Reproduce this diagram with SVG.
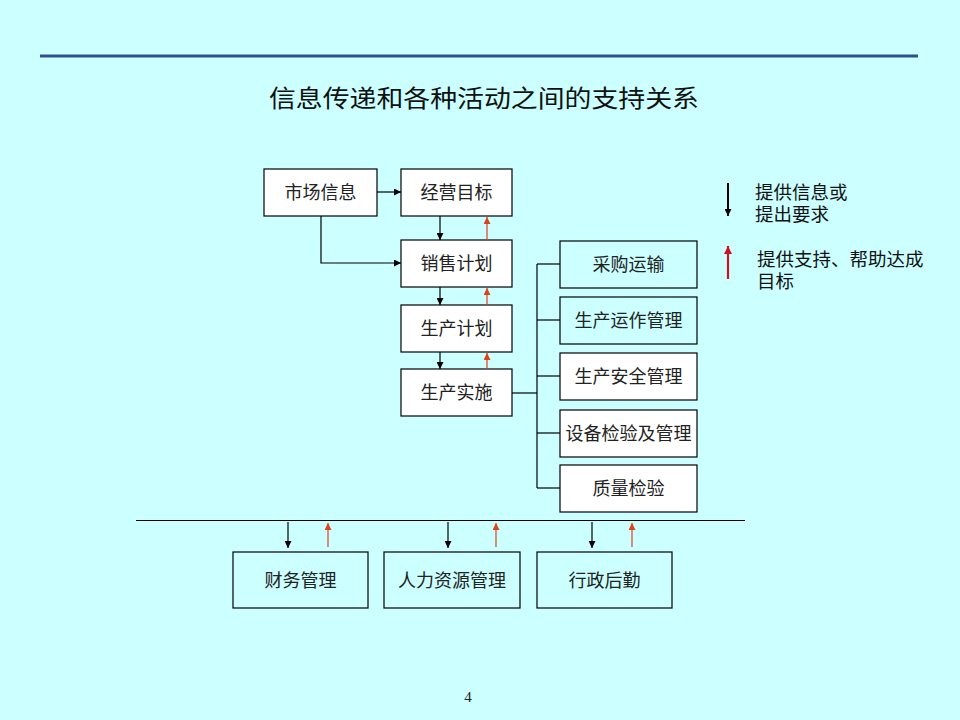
<svg xmlns="http://www.w3.org/2000/svg" width="960" height="720" viewBox="0 0 960 720">
<defs>
<marker id="ab" viewBox="0 0 10 10" refX="10" refY="5" markerWidth="7" markerHeight="7" markerUnits="userSpaceOnUse" orient="auto"><path d="M0,0 L10,5 L0,10 Z" fill="#000"/></marker>
<marker id="ar" viewBox="0 0 10 10" refX="10" refY="5" markerWidth="7" markerHeight="7" markerUnits="userSpaceOnUse" orient="auto"><path d="M0,0 L10,5 L0,10 Z" fill="#E0401A"/></marker>
<marker id="ar2" viewBox="0 0 10 10" refX="10" refY="5" markerWidth="8" markerHeight="8" markerUnits="userSpaceOnUse" orient="auto"><path d="M0,0 L10,5 L0,10 Z" fill="#CC1122"/></marker>
</defs>
<style>
.box{stroke:#000;stroke-width:1.2}
.w{fill:#fff}
.c{fill:#CCFFFF}
.t{font-family:"Noto Sans CJK SC","Noto Sans CJK JP",sans-serif;font-size:18px;fill:#222;text-anchor:middle}
.lg{font-family:"Noto Sans CJK SC","Noto Sans CJK JP",sans-serif;font-size:18.5px;fill:#111}
.title{font-family:"Noto Sans CJK SC","Noto Sans CJK JP",sans-serif;font-size:24px;fill:#111;text-anchor:middle}
.k{stroke:#000;stroke-width:1.2;fill:none}
.r{stroke:#E0401A;stroke-width:1.2;fill:none}
</style>
<rect x="0" y="0" width="960" height="720" fill="#CCFFFF"/>
<line x1="40" y1="56" x2="918" y2="56" stroke="#2F4F8A" stroke-width="3"/>
<text class="title" x="484" y="107" textLength="430" lengthAdjust="spacingAndGlyphs">信息传递和各种活动之间的支持关系</text>

<g id="n-market"><rect class="box w" x="264" y="169" width="113" height="47"/><text class="t" x="320.5" y="199">市场信息</text></g>
<g id="n-goal"><rect class="box w" x="401" y="169" width="111" height="47"/><text class="t" x="456.5" y="199">经营目标</text></g>
<g id="n-sales"><rect class="box w" x="401" y="240" width="111" height="47"/><text class="t" x="456.5" y="270">销售计划</text></g>
<g id="n-plan"><rect class="box w" x="401" y="305" width="111" height="47"/><text class="t" x="456.5" y="335">生产计划</text></g>
<g id="n-exec"><rect class="box w" x="401" y="369" width="111" height="47"/><text class="t" x="456.5" y="399">生产实施</text></g>

<g id="n-purchase"><rect class="box c" x="560" y="241" width="137" height="47"/><text class="t" x="628.5" y="271">采购运输</text></g>
<g id="n-ops"><rect class="box c" x="560" y="297" width="137" height="47"/><text class="t" x="628.5" y="327">生产运作管理</text></g>
<g id="n-safety"><rect class="box w" x="560" y="353" width="137" height="47"/><text class="t" x="628.5" y="383">生产安全管理</text></g>
<g id="n-equip"><rect class="box w" x="560" y="410" width="137" height="47"/><text class="t" x="628.5" y="440">设备检验及管理</text></g>
<g id="n-quality"><rect class="box w" x="560" y="465" width="137" height="47"/><text class="t" x="628.5" y="495">质量检验</text></g>

<g id="n-finance"><rect class="box c" x="233" y="552" width="135" height="56"/><text class="t" x="300.5" y="587">财务管理</text></g>
<g id="n-hr"><rect class="box c" x="384" y="552" width="136" height="56"/><text class="t" x="452" y="587">人力资源管理</text></g>
<g id="n-admin"><rect class="box c" x="537" y="552" width="135" height="56"/><text class="t" x="604.5" y="587">行政后勤</text></g>

<g id="connectors">
<line class="k" x1="377" y1="192" x2="401" y2="192" marker-end="url(#ab)"/>
<polyline class="k" points="321,216 321,263 401,263" marker-end="url(#ab)"/>
<line class="k" x1="440" y1="216" x2="440" y2="240" marker-end="url(#ab)"/>
<line class="k" x1="440" y1="287" x2="440" y2="305" marker-end="url(#ab)"/>
<line class="k" x1="440" y1="352" x2="440" y2="369" marker-end="url(#ab)"/>
<line class="r" x1="487" y1="240" x2="487" y2="217" marker-end="url(#ar)"/>
<line class="r" x1="487" y1="305" x2="487" y2="288" marker-end="url(#ar)"/>
<line class="r" x1="487" y1="369" x2="487" y2="353" marker-end="url(#ar)"/>

<line class="k" x1="512" y1="393" x2="537" y2="393"/>
<line class="k" x1="537" y1="264" x2="537" y2="488"/>
<line class="k" x1="537" y1="264" x2="560" y2="264"/>
<line class="k" x1="537" y1="320" x2="560" y2="320"/>
<line class="k" x1="537" y1="376" x2="560" y2="376"/>
<line class="k" x1="537" y1="433" x2="560" y2="433" stroke="#336666" stroke-width="1.6"/>
<line class="k" x1="537" y1="488" x2="560" y2="488"/>

<line class="k" x1="136" y1="520.5" x2="745" y2="520.5"/>
<line class="k" x1="288" y1="522" x2="288" y2="548" marker-end="url(#ab)"/>
<line class="k" x1="448" y1="522" x2="448" y2="548" marker-end="url(#ab)"/>
<line class="k" x1="592" y1="522" x2="592" y2="548" marker-end="url(#ab)"/>
<line class="r" x1="328" y1="547" x2="328" y2="523" marker-end="url(#ar)"/>
<line class="r" x1="496" y1="547" x2="496" y2="523" marker-end="url(#ar)"/>
<line class="r" x1="632" y1="547" x2="632" y2="523" marker-end="url(#ar)"/>

<line x1="728" y1="183" x2="728" y2="216" stroke="#000" stroke-width="2" marker-end="url(#ab)"/>
<line x1="728" y1="279" x2="728" y2="246" stroke="#CC1122" stroke-width="2.2" marker-end="url(#ar2)"/>
</g>

<g id="legend">
<text class="lg" x="755" y="199"><tspan x="755" y="199">提供信息或</tspan><tspan x="755" y="221">提出要求</tspan></text>
<text class="lg" x="757" y="266"><tspan x="757" y="266">提供支持、帮助达成</tspan><tspan x="757" y="288">目标</tspan></text>
</g>
<text x="468" y="702" font-family="'Liberation Serif',serif" font-size="15" fill="#222" text-anchor="middle">4</text>
</svg>
